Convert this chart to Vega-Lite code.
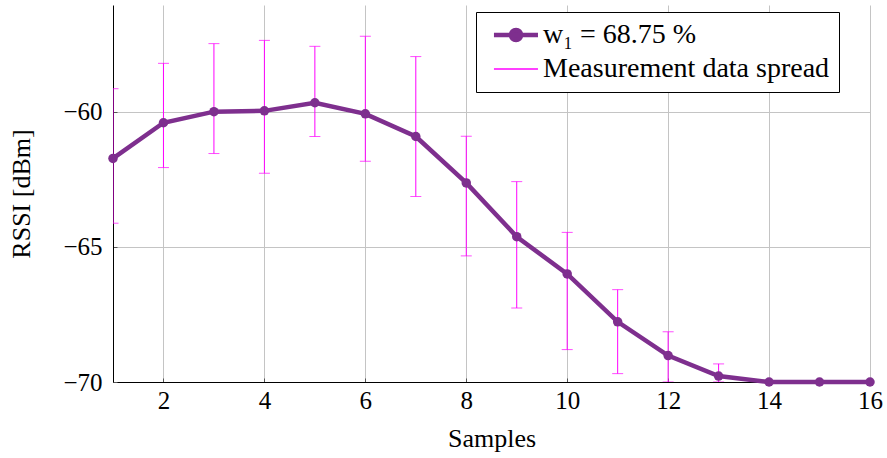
{
  "$schema": "https://vega.github.io/schema/vega-lite/v6.json",
  "width": 757,
  "height": 377,
  "autosize": "none",
  "padding": {"left": 113, "top": 5, "right": 17, "bottom": 76},
  "background": "white",
  "config": {
    "font": "Liberation Serif",
    "view": {"stroke": null},
    "axis": {
      "domainColor": "black",
      "domainWidth": 1,
      "gridColor": "#c4c4c4",
      "gridWidth": 1,
      "tickColor": "#555555",
      "tickSize": -4,
      "labelFont": "Liberation Serif",
      "labelFontSize": 25,
      "labelColor": "black",
      "labelFlush": false,
      "labelOverlap": false,
      "titleFont": "Liberation Serif",
      "titleFontSize": 26,
      "titleFontWeight": "normal",
      "titleColor": "black"
    }
  },
  "data": {
    "values": [
      {"x": 1, "mean": -61.72, "lo": -64.12, "hi": -59.14},
      {"x": 2, "mean": -60.40, "lo": -62.06, "hi": -58.20},
      {"x": 3, "mean": -59.99, "lo": -61.54, "hi": -57.47},
      {"x": 4, "mean": -59.96, "lo": -62.27, "hi": -57.35},
      {"x": 5, "mean": -59.66, "lo": -60.91, "hi": -57.57},
      {"x": 6, "mean": -60.07, "lo": -61.83, "hi": -57.20},
      {"x": 7, "mean": -60.91, "lo": -63.13, "hi": -57.95},
      {"x": 8, "mean": -62.63, "lo": -65.33, "hi": -60.90},
      {"x": 9, "mean": -64.62, "lo": -67.26, "hi": -62.58},
      {"x": 10, "mean": -66.00, "lo": -68.80, "hi": -64.46},
      {"x": 11, "mean": -67.77, "lo": -69.69, "hi": -66.58},
      {"x": 12, "mean": -69.02, "lo": -70.00, "hi": -68.14},
      {"x": 13, "mean": -69.78, "lo": -70.00, "hi": -69.33},
      {"x": 14, "mean": -70.00, "lo": null, "hi": null},
      {"x": 15, "mean": -70.00, "lo": null, "hi": null},
      {"x": 16, "mean": -70.00, "lo": null, "hi": null}
    ]
  },
  "encoding": {
    "x": {
      "field": "x",
      "type": "quantitative",
      "scale": {"domain": [1, 16], "nice": false, "zero": false},
      "axis": {
        "title": "Samples",
        "values": [2, 4, 6, 8, 10, 12, 14, 16],
        "labelPadding": 10,
        "titlePadding": 12
      }
    }
  },
  "layer": [
    {
      "mark": {"type": "rule", "clip": true, "strokeWidth": 1},
      "encoding": {
        "y": {
          "field": "lo",
          "type": "quantitative",
          "scale": {"domain": [-70, -56.04], "nice": false, "zero": false},
          "axis": {
            "title": "RSSI [dBm]",
            "values": [-70, -65, -60],
            "labelPadding": 15,
            "titlePadding": 28
          }
        },
        "y2": {"field": "hi"},
        "color": {
          "datum": "Measurement data spread",
          "type": "nominal",
          "scale": {
            "domain": ["w₁ = 68.75 %", "Measurement data spread"],
            "range": ["#7e2f8e", "#ff00ff"]
          },
          "legend": {
            "title": null,
            "orient": "none",
            "legendX": 363,
            "legendY": 7,
            "padding": 9,
            "fillColor": "white",
            "strokeColor": "black",
            "labelFont": "Liberation Serif",
            "labelFontSize": 28,
            "labelColor": "black",
            "labelLimit": 500,
            "labelOffset": 30,
            "symbolSize": 324,
            "rowPadding": 5,
            "encode": {
              "symbols": {
                "update": {
                  "shape": {"signal": "datum.value === 'Measurement data spread' ? 'M-0.56,0H4.33' : 'M-0.56,0H4.33M1.33,0A0.56,0.56 0 1 1 2.45,0A0.56,0.56 0 1 1 1.33,0'"},
                  "strokeWidth": {"signal": "datum.value === 'Measurement data spread' ? 1.3 : 4.5"},
                  "stroke": {"signal": "datum.value === 'Measurement data spread' ? '#ff00ff' : '#7e2f8e'"},
                  "fill": {"signal": "datum.value === 'Measurement data spread' ? 'transparent' : '#7e2f8e'"},
                  "opacity": {"value": 1},
                  "strokeOpacity": {"value": 1}
                }
              }
            }
          }
        }
      }
    },
    {
      "mark": {"type": "tick", "orient": "horizontal", "clip": true, "size": 11, "thickness": 1},
      "encoding": {
        "y": {"field": "lo", "type": "quantitative"},
        "color": {"datum": "Measurement data spread", "type": "nominal"}
      }
    },
    {
      "mark": {"type": "tick", "orient": "horizontal", "clip": true, "size": 11, "thickness": 1},
      "encoding": {
        "y": {"field": "hi", "type": "quantitative"},
        "color": {"datum": "Measurement data spread", "type": "nominal"}
      }
    },
    {
      "mark": {"type": "line", "strokeWidth": 4.5, "point": {"filled": true, "size": 90, "opacity": 1}},
      "encoding": {
        "y": {"field": "mean", "type": "quantitative"},
        "color": {"datum": "w₁ = 68.75 %", "type": "nominal"}
      }
    }
  ]
}
